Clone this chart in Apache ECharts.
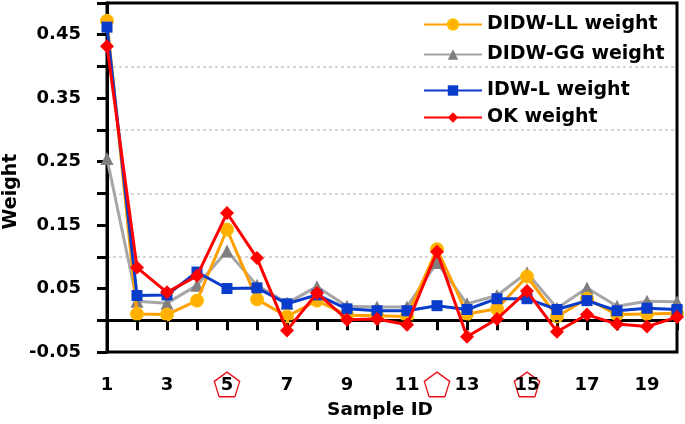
<!DOCTYPE html>
<html>
<head>
<meta charset="utf-8">
<script src="https://cdn.jsdelivr.net/npm/echarts@6/dist/echarts.min.js"></script>
<style>html,body{margin:0;padding:0;background:#fff}#c{width:685px;height:424px}</style>
</head>
<body>
<div id="c"></div>
<script>
var samples = ['1','2','3','4','5','6','7','8','9','10','11','12','13','14','15','16','17','18','19','20'];
var didwLL = [0.472, 0.010, 0.009, 0.031, 0.143, 0.033, 0.006, 0.031, 0.008, 0.007, 0.006, 0.112, 0.010, 0.018, 0.069, 0.006, 0.034, 0.009, 0.010, 0.011];
var didwGG = [0.255, 0.030, 0.027, 0.055, 0.109, 0.055, 0.027, 0.053, 0.022, 0.021, 0.021, 0.091, 0.026, 0.039, 0.075, 0.019, 0.051, 0.022, 0.030, 0.029];
var idwL   = [0.462, 0.039, 0.040, 0.076, 0.050, 0.051, 0.026, 0.040, 0.018, 0.015, 0.015, 0.023, 0.017, 0.034, 0.034, 0.017, 0.031, 0.015, 0.019, 0.017];
var okW    = [0.432, 0.083, 0.044, 0.070, 0.169, 0.098, -0.016, 0.043, 0.001, 0.002, -0.007, 0.108, -0.026, 0.002, 0.046, -0.018, 0.009, -0.006, -0.010, 0.005];
var seriesNames = ['DIDW-LL weight', 'DIDW-GG weight', 'IDW-L weight', 'OK weight'];
var shownXLabels = ['1','3','5','7','9','11','13','15','17','19'];
var markedSamples = ['5','12','15'];
var yLabelValues = ['-0.05','0.05','0.15','0.25','0.35','0.45'];

var FONT = 'DejaVu Sans';
var pentSvg = "<svg xmlns='http://www.w3.org/2000/svg' width='30' height='30'><polygon points='15,1.2 28.6,11.1 23.4,27.6 6.6,27.6 1.4,11.1' fill='none' stroke='#e8101a' stroke-width='1.4'/></svg>";
var pentUrl = 'data:image/svg+xml;charset=utf-8,' + encodeURIComponent(pentSvg);

var chart = echarts.init(document.getElementById('c'));
var lineW = 3;
chart.setOption({
  animation: false,
  grid: { left: 107, right: 8, top: 3, bottom: 72, show: true, borderColor: '#000', borderWidth: 3, containLabel: false, outerBoundsMode: 'none' },
  legend: [
    { data: [seriesNames[0], seriesNames[1]], orient: 'vertical', left: 418, top: 10, itemGap: 11, itemWidth: 58, itemHeight: 13,
      textStyle: { fontFamily: FONT, fontWeight: 'bold', fontSize: 19, color: '#000' } },
    { data: [seriesNames[2], seriesNames[3]], orient: 'vertical', left: 418, top: 76, itemGap: 8, itemWidth: 58, itemHeight: 13,
      textStyle: { fontFamily: FONT, fontWeight: 'bold', fontSize: 19, color: '#000' } }
  ],
  xAxis: {
    type: 'category', data: samples, boundaryGap: false,
    name: 'Sample ID', nameLocation: 'middle', nameGap: 49, nameMoveOverlap: false,
    nameTextStyle: { fontFamily: FONT, fontWeight: 'bold', fontSize: 18.5, color: '#000', padding: [0, 24, 0, 0] },
    axisLine: { lineStyle: { color: '#000', width: 3 } },
    axisTick: { show: true, inside: false, length: 10, interval: 0, lineStyle: { color: '#000', width: 3 } },
    axisLabel: {
      interval: 0, margin: 19, color: '#000', fontFamily: FONT, fontWeight: 'bold', fontSize: 18,
      formatter: function (v) {
        if (markedSamples.indexOf(v) >= 0) {
          return '{p|' + (shownXLabels.indexOf(v) >= 0 ? v : ' ') + '}';
        }
        return shownXLabels.indexOf(v) >= 0 ? '{n|' + v + '}' : '';
      },
      rich: {
        n: { height: 28, fontFamily: FONT, fontWeight: 'bold', fontSize: 18, color: '#000', align: 'center', verticalAlign: 'middle' },
        p: { width: 28, height: 28, fontFamily: FONT, fontWeight: 'bold', fontSize: 18, color: '#000', align: 'center', verticalAlign: 'middle',
             backgroundColor: { image: pentUrl } }
      }
    },
    splitLine: { show: false }
  },
  yAxis: {
    type: 'value', min: -0.05, max: 0.5, interval: 0.05,
    name: 'Weight', nameLocation: 'middle', nameGap: 86, nameMoveOverlap: false,
    nameTextStyle: { fontFamily: FONT, fontWeight: 'bold', fontSize: 19, color: '#000', padding: [0, 28, 0, 0] },
    axisLine: { show: true, lineStyle: { color: '#000', width: 3 } },
    axisTick: { show: true, inside: false, length: 10, lineStyle: { color: '#000', width: 3 } },
    axisLabel: {
      margin: 26, color: '#000', fontFamily: FONT, fontWeight: 'bold', fontSize: 18,
      formatter: function (v) {
        var s = (Math.round(v * 100) / 100).toFixed(2);
        return yLabelValues.indexOf(s) >= 0 ? s : '';
      }
    },
    splitLine: { show: true, lineStyle: { type: [3, 3], width: 1.5,
      color: ['transparent','transparent','transparent','#c8c8c8','transparent','#c8c8c8','transparent','#c8c8c8','transparent','#c8c8c8','transparent','transparent'] } }
  },
  series: [
    { name: seriesNames[1], type: 'line', data: didwGG, z: 2, symbol: 'triangle', symbolSize: 13,
      lineStyle: { color: '#a6a6a6', width: lineW }, itemStyle: { color: '#7f7f7f', borderColor: '#7f7f7f', borderWidth: 0 },
      markLine: { silent: true, symbol: ['none', 'none'], label: { show: false },
        lineStyle: { color: '#000', type: [4, 3], width: 1.5 }, data: [{ yAxis: 0 }] } },
    { name: seriesNames[0], type: 'line', data: didwLL, z: 3, symbol: 'circle', symbolSize: 13,
      lineStyle: { color: '#ffa000', width: lineW }, itemStyle: { color: '#ffb000', borderColor: '#ffc000', borderWidth: 1 } },
    { name: seriesNames[2], type: 'line', data: idwL, z: 4, symbol: 'rect', symbolSize: 11,
      lineStyle: { color: '#0a3ccc', width: lineW }, itemStyle: { color: '#0a3ccc', borderWidth: 0 } },
    { name: seriesNames[3], type: 'line', data: okW, z: 5, symbol: 'diamond', symbolSize: 14,
      lineStyle: { color: '#ff0000', width: lineW }, itemStyle: { color: '#ff0000', borderWidth: 0 } }
  ]
});
</script>
</body>
</html>
